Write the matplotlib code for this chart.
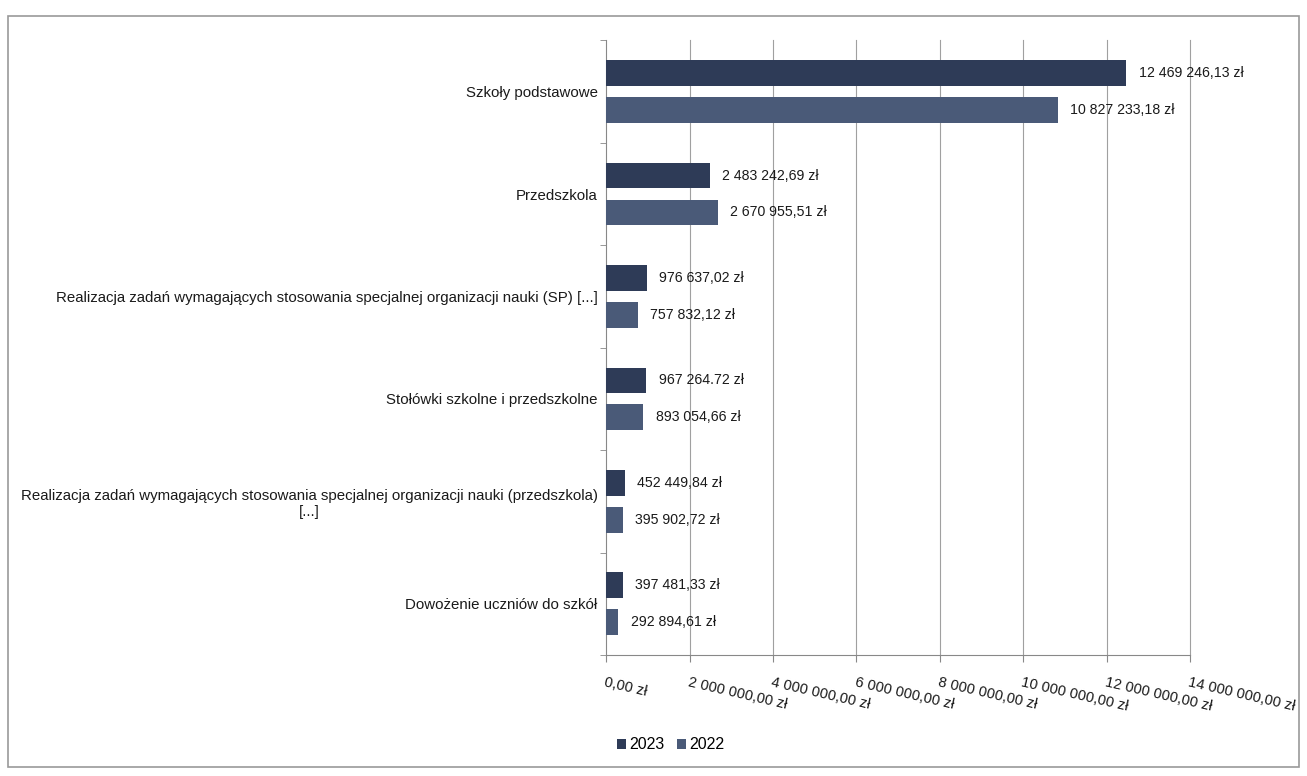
import numpy as np
import matplotlib.pyplot as plt
from matplotlib.patches import Rectangle

plt.rcParams['font.family'] = ['Liberation Sans', 'DejaVu Sans']

categories = [
    'Szkoły podstawowe',
    'Przedszkola',
    'Realizacja zadań wymagających stosowania specjalnej organizacji nauki (SP) [...]',
    'Stołówki szkolne i przedszkolne',
    'Realizacja zadań wymagających stosowania specjalnej organizacji nauki (przedszkola)\n[...]',
    'Dowożenie uczniów do szkół',
]
v2023 = [12469246.13, 2483242.69, 976637.02, 967264.72, 452449.84, 397481.33]
v2022 = [10827233.18, 2670955.51, 757832.12, 893054.66, 395902.72, 292894.61]
labels2023 = ['12 469 246,13 zł', '2 483 242,69 zł', '976 637,02 zł',
              '967 264.72 zł', '452 449,84 zł', '397 481,33 zł']
labels2022 = ['10 827 233,18 zł', '2 670 955,51 zł', '757 832,12 zł',
              '893 054,66 zł', '395 902,72 zł', '292 894,61 zł']
xticks = np.arange(0, 14000001, 2000000)
xticklabels = ['0,00 zł', '2 000 000,00 zł', '4 000 000,00 zł', '6 000 000,00 zł',
               '8 000 000,00 zł', '10 000 000,00 zł', '12 000 000,00 zł', '14 000 000,00 zł']

c2023 = '#2e3b57'
c2022 = '#4a5a78'

fig = plt.figure(figsize=(13.07, 7.76), dpi=100)
ax = fig.add_axes([0.4637, 0.156, 0.447, 0.792])

y = np.arange(len(categories))
h = 0.25
off = 0.18
b1 = ax.barh(y - off, v2023, height=h, color=c2023, label='2023', zorder=3)
b2 = ax.barh(y + off, v2022, height=h, color=c2022, label='2022', zorder=3)

for bars, labs in ((b1, labels2023), (b2, labels2022)):
    for bar, lab in zip(bars, labs):
        ax.annotate(lab, (bar.get_width(), bar.get_y() + bar.get_height() / 2),
                    xytext=(9, 0), textcoords='offset points', va='center',
                    ha='left', fontsize=10.2, color='#1a1a1a')

ax.set_ylim(len(categories) - 0.5, -0.5)
ax.set_yticks(y)
ax.set_yticklabels(categories, fontsize=10.8, color='#1a1a1a', multialignment='center')
ax.set_yticks(np.arange(len(categories) + 1) - 0.5, minor=True)
ax.tick_params(axis='y', which='major', length=0, pad=6)
ax.tick_params(axis='y', which='minor', length=4, color='#888888')

ax.set_xlim(0, 14000000)
ax.set_xticks(xticks)
ax.set_xticklabels(xticklabels, fontsize=10.5, rotation=-13, ha='left',
                   va='top', rotation_mode='anchor', color='#1a1a1a')
ax.tick_params(axis='x', length=5, color='#888888', pad=10)

for xv in xticks[1:]:
    ax.axvline(xv, color='#a0a0a0', lw=0.8, zorder=0, clip_on=False)
for s in ['top', 'right']:
    ax.spines[s].set_visible(False)
ax.spines['left'].set_color('#888888')
ax.spines['bottom'].set_color('#888888')

fig.legend(handles=[b1, b2], loc='center', bbox_to_anchor=(0.513, 0.04),
           ncol=2, frameon=False, fontsize=11.5, handlelength=0.55,
           handleheight=0.6, handletextpad=0.2, columnspacing=0.8)

fig.patches.append(Rectangle((0.006, 0.012), 0.988, 0.968, transform=fig.transFigure,
                             fill=False, edgecolor='#999999', lw=1.2))

fig.savefig('out.png', dpi=100)
